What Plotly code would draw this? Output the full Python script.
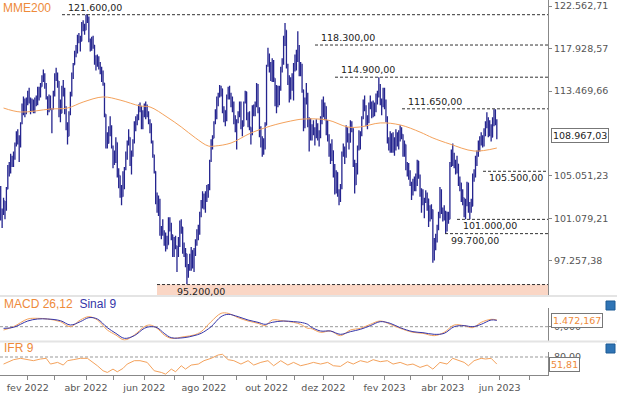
import math
import plotly.graph_objects as go

# ---------------- DATA (values in thousands of points) ----------------
# Daily bars from 05/jan/2022 to 30/mai/2023 (trading-day index 0..349)
close = [
    101.0,101.6,102.7,101.9,103.8,105.7,105.5,106.9,106.4,106.7,108.0,109.1,108.9,107.9,110.2,111.3,112.6,111.9,112.1,
    113.2,112.7,111.7,112.2,111.9,112.2,112.5,113.4,113.6,113.9,114.8,115.2,114.0,112.9,111.7,112.9,111.6,111.6,113.1,
    115.2,115.2,114.5,111.6,111.2,113.9,113.7,111.7,109.9,108.9,111.1,113.1,115.3,116.2,117.3,117.5,119.1,119.1,118.7,120.0,120.3,119.9,
    121.6,121.3,118.9,118.2,118.9,118.3,116.9,116.1,116.8,116.2,115.7,115.1,114.3,111.1,108.2,108.2,109.3,109.9,107.9,
    106.6,107.0,108.3,105.3,105.1,103.3,103.1,104.4,105.7,106.9,108.2,108.8,106.2,107.0,108.5,110.3,110.6,110.6,111.9,111.9,110.0,111.4,
    111.4,112.0,111.1,110.5,110.1,108.4,107.1,105.5,102.6,101.9,102.8,99.8,99.9,99.7,99.5,98.9,98.7,100.8,100.6,99.6,98.5,
    98.9,98.6,98.3,98.7,100.7,100.3,98.2,98.3,97.9,96.1,96.6,96.9,98.2,97.0,98.3,98.9,99.8,99.7,101.4,102.6,103.2,
    102.2,103.4,103.8,103.8,106.5,108.4,108.7,110.2,110.7,112.8,113.0,113.8,113.7,111.5,111.5,110.5,113.0,113.5,112.9,112.3,112.3,110.4,109.5,
    110.4,110.9,112.2,109.8,109.9,112.3,113.4,110.8,110.5,109.8,109.3,111.8,111.8,111.9,114.1,111.7,109.1,108.4,108.5,107.7,110.0,
    116.1,117.2,116.4,115.1,116.4,114.8,112.1,113.7,112.1,113.6,115.7,116.3,119.1,119.9,116.0,114.6,112.8,114.6,114.5,116.0,
    116.9,116.9,118.2,115.3,116.2,113.6,109.8,112.3,113.2,110.2,109.7,108.9,109.7,109.7,108.8,110.0,108.8,108.8,110.3,112.5,
    111.4,111.9,109.4,108.9,107.2,107.2,107.5,105.3,103.5,105.4,103.4,102.8,103.9,107.2,107.5,106.9,109.7,108.7,108.3,110.2,109.7,
    106.4,104.2,105.3,107.6,108.9,109.1,110.8,112.5,111.8,110.9,110.3,112.0,112.0,111.4,112.0,111.4,112.7,112.9,114.0,112.3,111.9,113.5,
    112.1,110.8,108.5,108.0,108.7,107.9,107.6,108.2,109.0,108.5,108.6,109.6,109.1,107.2,108.1,105.8,105.7,104.9,
    104.4,103.3,103.9,104.7,104.2,106.5,105.1,103.6,103.1,102.9,102.7,103.4,102.9,100.9,101.9,101.9,97.9,98.8,99.0,100.1,101.2,103.7,101.9,
    101.5,101.7,100.0,101.5,101.0,106.2,106.2,106.9,106.3,106.0,106.2,104.4,104.4,102.9,103.0,101.8,102.3,104.4,
    101.9,101.8,102.2,105.1,105.1,106.7,107.1,108.3,108.5,108.8,108.1,109.0,110.1,110.7,109.1,109.9,108.8,110.1,110.9,110.3,108.96703,
]
high = [
    104.1,102.0,103.0,102.7,104.0,106.1,106.4,107.2,107.0,107.4,108.3,109.4,109.6,109.0,110.3,112.2,112.9,112.7,112.8,
    113.5,113.8,112.8,112.7,112.6,112.8,113.0,113.9,113.9,114.3,115.1,115.7,115.3,114.3,112.9,113.1,113.0,111.7,113.5,
    115.3,115.9,115.4,114.5,112.6,114.0,114.6,113.8,111.9,110.3,111.4,113.4,115.4,116.4,117.7,118.3,119.4,119.6,119.3,120.8,121.0,120.6,
    121.6,121.6,121.4,119.0,119.2,119.3,118.3,117.2,117.3,117.1,116.5,116.0,115.6,114.3,111.1,109.3,109.9,110.9,110.0,
    108.0,107.5,108.8,108.3,105.8,105.1,104.2,105.5,105.9,107.4,108.5,109.6,108.8,107.5,108.6,110.4,110.9,111.1,112.1,112.3,111.9,111.5,
    112.2,112.4,112.1,111.4,110.6,110.2,108.5,107.1,105.5,103.5,103.2,102.9,100.4,101.0,100.0,99.8,99.5,101.2,101.2,100.7,99.6,
    99.4,99.5,98.6,99.4,100.9,101.0,100.3,98.9,98.4,97.9,97.0,97.9,98.5,98.2,98.4,99.2,100.1,100.5,101.7,102.8,103.6,
    103.4,103.6,104.2,104.3,106.6,108.6,109.0,110.4,111.6,112.9,113.3,114.1,114.0,113.7,111.9,111.5,113.1,113.9,114.0,113.3,112.9,112.4,111.0,
    110.6,111.4,112.4,112.4,110.5,112.4,113.5,113.4,111.3,111.4,109.8,112.0,112.1,112.4,114.3,114.2,111.8,109.9,108.9,108.7,110.3,
    116.2,118.0,117.4,116.5,116.9,116.7,114.8,114.1,114.0,114.0,116.0,116.9,119.3,120.7,119.9,116.3,115.1,114.9,115.3,116.4,
    117.3,117.8,119.8,118.3,116.5,116.3,113.6,112.8,114.3,113.3,110.8,110.7,110.1,110.5,109.8,110.6,110.2,109.5,110.9,112.6,
    112.9,112.3,111.9,110.5,109.1,108.2,108.6,107.5,106.2,105.6,105.4,103.8,104.3,107.4,108.2,107.9,110.0,109.8,109.2,110.5,110.4,
    109.7,106.6,106.3,108.0,109.5,109.4,110.9,112.6,113.0,112.0,111.0,112.3,113.0,112.4,112.5,112.3,113.2,113.5,114.9,114.2,112.7,113.8,
    113.8,112.6,110.9,108.8,109.4,109.2,109.3,108.8,109.6,109.3,109.5,110.0,109.8,109.1,108.5,108.1,106.4,106.3,
    105.6,104.5,104.8,105.0,105.3,106.6,106.5,105.2,103.9,103.8,103.0,103.7,103.5,102.9,102.3,102.4,101.9,99.3,99.7,100.5,101.7,104.0,103.8,
    102.1,102.3,101.8,101.7,101.7,106.4,107.6,108.2,107.3,106.6,107.0,106.2,105.0,104.4,103.8,103.0,102.9,104.5,
    104.4,102.6,102.9,105.3,105.7,107.0,107.5,108.5,108.9,109.3,109.0,109.7,110.4,111.3,110.8,110.5,110.1,110.8,111.6,111.6,110.6,
]
low = [
    100.9,100.2,101.4,101.0,101.8,103.8,105.0,105.3,105.9,105.9,106.6,107.9,108.1,106.4,107.8,110.1,111.0,110.8,111.1,
    112.0,112.2,111.1,111.4,111.2,111.2,111.9,112.0,112.5,112.8,113.9,114.4,113.7,112.6,111.0,111.3,111.5,109.2,111.6,
    112.9,114.5,113.8,110.8,110.3,111.2,112.9,111.1,109.5,108.1,108.9,111.0,112.9,114.7,116.2,117.0,117.4,118.5,117.6,118.7,119.8,119.4,
    119.9,120.7,118.6,117.6,117.7,117.9,116.2,115.6,116.0,115.7,115.2,114.4,114.0,110.8,107.7,107.7,108.2,108.9,107.7,
    105.8,106.1,106.3,104.9,103.9,103.0,102.3,103.1,103.8,105.6,106.6,108.0,106.0,105.2,106.9,108.2,109.4,110.0,110.5,111.3,109.6,109.6,
    110.8,110.6,110.8,110.1,109.2,108.2,106.8,105.3,102.4,101.6,101.3,99.5,99.2,99.5,98.6,98.1,98.3,98.7,99.9,99.1,97.6,
    97.6,98.3,96.3,97.6,98.5,99.7,97.9,97.6,96.7,95.2,95.8,96.4,96.4,96.6,96.3,97.7,98.6,99.1,99.6,101.2,102.0,
    101.9,101.6,102.6,103.0,103.7,106.4,107.6,108.7,110.1,110.6,111.9,112.8,112.9,111.2,110.3,109.9,110.4,112.6,112.6,111.8,111.3,110.1,109.3,
    107.6,110.2,110.8,109.6,108.9,109.9,112.2,110.5,109.8,109.5,108.1,109.0,110.9,110.9,111.8,111.2,108.8,107.8,106.9,107.1,107.6,
    110.0,116.0,115.4,114.5,114.4,114.4,111.9,111.2,111.8,112.0,113.5,115.4,116.2,118.2,115.8,114.1,112.3,112.6,113.5,112.5,
    115.5,115.6,116.5,115.0,115.0,113.3,109.4,109.7,112.1,109.8,107.4,108.5,108.5,109.0,108.0,108.7,108.5,107.9,108.7,110.1,
    110.8,110.5,109.0,108.4,106.9,106.2,106.5,104.9,103.3,103.4,103.1,102.3,102.6,103.8,106.9,106.2,106.8,108.3,107.6,108.3,109.3,
    105.9,103.4,104.2,105.2,107.5,107.6,108.9,110.6,111.4,109.9,109.6,110.2,111.6,110.7,110.8,110.9,111.3,112.1,112.8,112.0,111.0,111.8,
    111.6,110.3,108.2,107.5,107.3,107.3,107.3,107.0,107.5,107.9,107.6,108.4,108.6,106.9,106.9,105.6,105.0,104.7,
    104.1,102.8,103.2,103.6,103.6,104.1,104.8,103.1,101.6,102.3,101.1,102.5,101.8,100.3,100.8,101.0,97.1,97.3,98.2,98.9,100.0,101.1,101.5,
    100.8,100.9,99.7,99.9,100.6,101.0,105.9,106.0,105.8,105.2,105.3,104.1,103.6,102.6,102.3,101.2,101.0,102.2,
    101.6,101.0,101.6,102.2,104.5,104.9,106.0,106.9,107.4,108.0,107.8,107.9,108.9,109.7,108.8,108.9,108.4,108.8,109.9,110.0,108.6,
]
first_open = 104.0

# MME200 (200-period exponential moving average), read at sample days
mme_idx = [2, 14, 35, 47, 58, 72, 84, 98, 105, 117, 127, 137, 146, 151, 162, 176, 190, 204, 213, 230, 244, 253, 267, 281, 295, 304, 316, 333, 349]
mme_val = [111.73, 111.33, 111.63, 111.73, 112.34, 112.86, 112.54, 111.94, 111.84, 110.82, 109.83, 108.74, 107.95, 107.95,
           108.24, 109.23, 109.93, 110.42, 110.62, 110.52, 109.83, 109.83, 110.23, 110.03, 109.32, 108.74, 108.14, 107.46, 107.75]

# MACD 26,12 and signal 9
macd_idx = [2, 9, 19, 26, 33, 42, 49, 56, 62, 68, 75, 81, 87, 94, 101, 105, 110, 115, 120, 129, 136, 141, 148, 155, 160,
            167, 174, 181, 186, 191, 199, 206, 211, 216, 218, 225, 232, 239, 246, 253, 260, 267, 274, 281, 290, 297, 305,
            312, 319, 326, 332, 338, 345, 349]
macd_val = [-726, 0, 1694, 1841, 1694, 1107, 0, 1474, 2207, 1474, -726, -1826, -2926, -1826, 0, 374, -359, -1826, -2559,
            -2193, -1826, -1093, 1107, 2940, 2940, 1987, 1254, 741, 227, 1474, 1254, 961, 521, -359, -359, -1239, -946,
            -1973, -726, -359, 521, 1254, 521, -359, -1239, -1459, -1973, -1239, 374, 227, -213, 961, 1621, 1472.167]
sinal_val = [-359, -139, 1254, 1694, 1694, 1327, 374, 1107, 1987, 1694, -213, -1459, -2559, -1973, -359, 0, -213, -1459,
             -2413, -2413, -1973, -1459, 0, 2207, 2721, 2207, 1474, 961, 521, 961, 1254, 1107, 961, 521, 0, -946, -946,
             -1679, -1093, -579, 227, 1107, 741, -213, -1093, -1313, -1679, -1459, 0, 227, 0, 521, 1474, 1400]

# IFR 9 (RSI)
ifr_idx = [2, 5, 9, 14, 19, 23, 28, 32, 35, 40, 44, 47, 51, 56, 61, 65, 68, 72, 75, 79, 82, 86, 89, 94, 98, 103, 108, 113,
           116, 120, 123, 127, 130, 134, 139, 143, 148, 153, 156, 160, 164, 169, 174, 178, 183, 188, 192, 197, 202, 206,
           211, 216, 220, 225, 230, 234, 239, 244, 248, 253, 258, 262, 267, 272, 276, 281, 286, 290, 295, 300, 304, 309,
           314, 318, 321, 326, 329, 333, 338, 341, 345, 348, 349]
ifr_val = [51.8, 58.5, 69.3, 74.7, 69.3, 65.3, 72.0, 74.7, 51.8, 58.5, 47.8, 65.3, 69.3, 74.7, 74.7, 58.5, 45.1, 24.9, 18.2,
           31.6, 20.9, 34.3, 51.8, 65.3, 65.3, 58.5, 24.9, 18.2, 11.5, 31.6, 20.9, 45.1, 31.6, 47.8, 51.8, 65.3, 74.7, 88.1,
           90.8, 69.3, 65.3, 51.8, 65.3, 47.8, 58.5, 65.3, 45.1, 65.3, 47.8, 58.5, 45.1, 51.8, 58.5, 51.8, 58.5, 45.1, 42.4,
           61.2, 51.8, 65.3, 58.5, 69.3, 61.2, 65.3, 51.8, 58.5, 47.8, 51.8, 38.4, 47.8, 31.6, 58.5, 51.8, 74.7, 69.3, 58.5,
           45.1, 65.3, 74.7, 72.0, 74.7, 58.5, 51.81]

# Support / resistance levels
levels = [121600, 118300, 114900, 111650, 105500, 101000, 99700, 95200]
level_text = ["121.600,00", "118.300,00", "114.900,00", "111.650,00", "105.500,00", "101.000,00", "99.700,00", "95.200,00"]

# Axis ticks
y_tickvals = [122562.71, 117928.57, 113469.66, 105051.23, 101079.21, 97257.38]
y_ticktext = ["122.562,71", "117.928,57", "113.469,66", "105.051,23", "101.079,21", "97.257,38"]
month_idx = [19, 38, 60, 79, 101, 122, 143, 166, 187, 207, 227, 248, 270, 288, 311, 329, 351, 372]
month_text = ["fev 2022", "", "abr 2022", "", "jun 2022", "", "ago 2022", "", "out 2022", "",
              "dez 2022", "", "fev 2023", "", "abr 2023", "", "jun 2023", ""]
last_price_text = "108.967,03"
last_macd_text = "1.472,167"
last_ifr_text = "51,81"

assert len(close) == len(high) == len(low) == 350, (len(close), len(high), len(low))

# ---------------- LAYOUT GEOMETRY ----------------
W, H = 617, 395
ML, MR, MT, MB = 0, 69, 0, 20
PW, PH = W - ML - MR, H - MT - MB
X0, X1 = -0.5, 385.0
Y_TOP, Y_BOT = 123232.0, 94303.0

def xpx(px):
    return X0 + px / PW * (X1 - X0)

def ypaper(py):
    return 1 - py / PH

ORANGE = "#F4A25C"
ORANGE_TXT = "#EE8A3A"
NAVY = "#25258F"
BLUE = "#3535A8"
GRAY = "#888888"
TICKFONT = dict(family="DejaVu Sans, Verdana", size=9.5, color="#555555")
LBLFONT = dict(family="DejaVu Sans, Verdana", size=9.5, color="#222222")
TITLEFONT = "Liberation Sans, Arial"
DASH = "3px,2px"

k = 1000.0
opens = [first_open] + close[:-1]
idx = list(range(len(close)))

fig = go.Figure()

# pink band below the 95.200 support
band_x0 = xpx(157)
fig.add_trace(go.Scatter(x=[band_x0, X1, X1, band_x0], y=[levels[-1], levels[-1], 80000, 80000],
                         fill="toself", fillcolor="#FAD6C5", line=dict(width=0), mode="lines",
                         hoverinfo="skip", xaxis="x", yaxis="y"))

# level lines
level_start_px = [62, 315, 335, 402, 483, 457, 445, 157]
level_above = [True, True, True, True, False, False, False, False]
for lv, spx in zip(levels, level_start_px):
    fig.add_trace(go.Scatter(x=[xpx(spx), X1], y=[lv, lv], mode="lines",
                             line=dict(color="#333333", width=1, dash=DASH),
                             hoverinfo="skip", xaxis="x", yaxis="y"))

# price bars
fig.add_trace(go.Ohlc(x=idx, open=[v * k for v in opens], high=[v * k for v in high],
                      low=[v * k for v in low], close=[v * k for v in close],
                      increasing=dict(line=dict(color=NAVY, width=1.3)),
                      decreasing=dict(line=dict(color=NAVY, width=1.3)),
                      tickwidth=0.45, xaxis="x", yaxis="y"))

# MME200
fig.add_trace(go.Scatter(x=mme_idx, y=[v * k for v in mme_val], mode="lines",
                         line=dict(color=ORANGE, width=1, shape="spline"), xaxis="x", yaxis="y"))

# MACD panel
fig.add_trace(go.Scatter(x=[X0, X1], y=[0, 0], mode="lines", line=dict(color="#999999", width=1, dash=DASH),
                         xaxis="x", yaxis="y2"))
fig.add_trace(go.Scatter(x=macd_idx, y=macd_val, mode="lines", line=dict(color=ORANGE, width=1, shape="spline"),
                         xaxis="x", yaxis="y2"))
fig.add_trace(go.Scatter(x=macd_idx, y=sinal_val, mode="lines", line=dict(color=BLUE, width=1, shape="spline"),
                         xaxis="x", yaxis="y2"))

# IFR panel
fig.add_trace(go.Scatter(x=[X0, X1], y=[80, 80], mode="lines", line=dict(color="#999999", width=1, dash=DASH),
                         xaxis="x", yaxis="y3"))
fig.add_trace(go.Scatter(x=ifr_idx, y=ifr_val, mode="lines", line=dict(color=ORANGE, width=1),
                         xaxis="x", yaxis="y3"))

annotations = []
for lv, txt, spx, above in zip(levels, level_text, level_start_px, level_above):
    lx = spx + (18 if spx == 157 else 4)
    annotations.append(dict(x=xpx(lx), y=math.log10(lv), xref="x", yref="y", text=txt, showarrow=False,
                            xanchor="left", yanchor="bottom" if above else "top", font=LBLFONT,
                            yshift=0 if above else 1))

# value boxes
annotations.append(dict(x=(PW + 3) / PW, y=math.log10(close[-1] * k), xref="paper", yref="y",
                        text=last_price_text, showarrow=False, xanchor="left", yanchor="middle",
                        font=LBLFONT, bgcolor="white", bordercolor="#777777", borderwidth=1, borderpad=1))
annotations.append(dict(x=(PW + 3) / PW, y=macd_val[-1], xref="paper", yref="y2",
                        text=last_macd_text, showarrow=False, xanchor="left", yanchor="middle",
                        font=dict(family="DejaVu Sans, Verdana", size=9.5, color=ORANGE_TXT),
                        bgcolor="white", bordercolor="#777777", borderwidth=1, borderpad=1))
annotations.append(dict(x=(PW + 1) / PW, y=ifr_val[-1], xref="paper", yref="y3",
                        text=last_ifr_text, showarrow=False, xanchor="left", yanchor="middle",
                        font=dict(family="DejaVu Sans, Verdana", size=9.5, color=ORANGE_TXT),
                        bgcolor="white", bordercolor="#777777", borderwidth=1, borderpad=1))

# panel titles
annotations.append(dict(x=0.002, y=ypaper(8), xref="paper", yref="paper", text="MME200", showarrow=False,
                        xanchor="left", yanchor="middle", font=dict(family=TITLEFONT, size=12, color=ORANGE_TXT)))
annotations.append(dict(x=0.004, y=ypaper(304), xref="paper", yref="paper",
                        text="MACD 26,12  <span style='color:%s'>Sinal 9</span>" % BLUE, showarrow=False,
                        xanchor="left", yanchor="middle", font=dict(family=TITLEFONT, size=12, color=ORANGE_TXT)))
annotations.append(dict(x=0.004, y=ypaper(348), xref="paper", yref="paper", text="IFR 9", showarrow=False,
                        xanchor="left", yanchor="middle", font=dict(family=TITLEFONT, size=12, color=ORANGE_TXT)))

shapes = [
    dict(type="line", xref="paper", yref="paper", x0=0, x1=W / PW, y0=ypaper(296), y1=ypaper(296),
         line=dict(color="#E4E4E4", width=2)),
    dict(type="line", xref="paper", yref="paper", x0=0, x1=W / PW, y0=ypaper(341.5), y1=ypaper(341.5),
         line=dict(color="#E4E4E4", width=2)),
    dict(type="rect", xref="paper", yref="paper", x0=606 / PW, x1=615 / PW, y0=ypaper(310), y1=ypaper(301),
         fillcolor="#2F74B5", line=dict(color="#1D5A94", width=1)),
    dict(type="rect", xref="paper", yref="paper", x0=606 / PW, x1=615 / PW, y0=ypaper(353), y1=ypaper(344),
         fillcolor="#2F74B5", line=dict(color="#1D5A94", width=1)),
]

axis_common = dict(showgrid=False, zeroline=False, showline=True, linecolor=GRAY, linewidth=1,
                   ticks="outside", tickcolor=GRAY, tickfont=TICKFONT)

fig.update_layout(
    width=W, height=H, margin=dict(l=ML, r=MR, t=MT, b=MB),
    paper_bgcolor="white", plot_bgcolor="white", showlegend=False,
    font=dict(family="DejaVu Sans, Verdana", size=10, color="#555555"),
    xaxis=dict(domain=[0, 1], range=[X0, X1], anchor="y3", tickmode="array", tickvals=month_idx,
               ticktext=month_text, rangeslider=dict(visible=False), ticklen=4, **axis_common),
    yaxis=dict(domain=[ypaper(295), 1], type="log", range=[math.log10(Y_BOT), math.log10(Y_TOP)],
               side="right", anchor="x", tickmode="array", tickvals=y_tickvals, ticktext=y_ticktext,
               ticklen=3, **axis_common),
    yaxis2=dict(domain=[ypaper(341), ypaper(308)], range=[-3146, 4114], side="right", anchor="x",
                tickmode="array", tickvals=[0], ticktext=["0,000"], ticklen=3, **axis_common),
    yaxis3=dict(domain=[0, ypaper(352)], range=[8, 100], side="right", anchor="x",
                tickmode="array", tickvals=[80], ticktext=["80,00"], ticklen=3, **axis_common),
    annotations=annotations, shapes=shapes,
)

fig.write_html("out.html", config={"displayModeBar": False},
               post_script="document.body.style.margin='0px';document.body.style.overflow='hidden';")
